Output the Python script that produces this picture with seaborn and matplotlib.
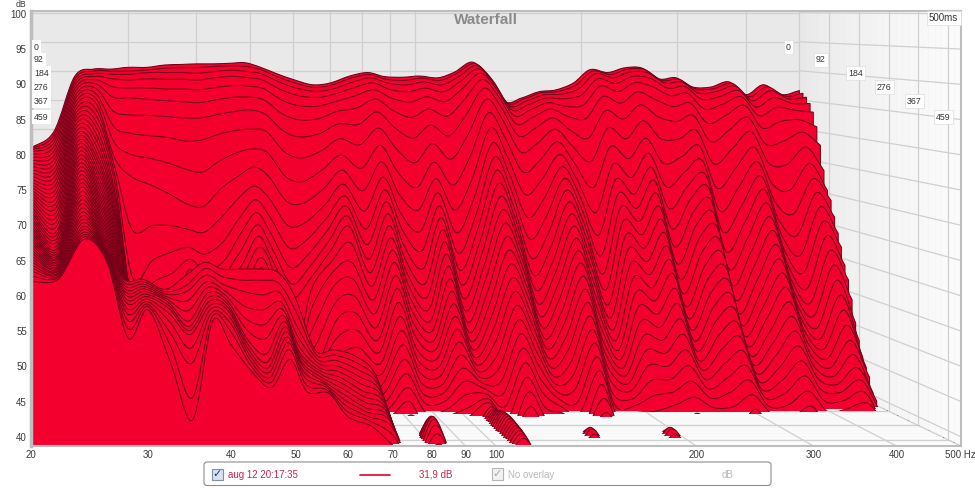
import numpy as np
import matplotlib
matplotlib.use("Agg")
import matplotlib.pyplot as plt
from matplotlib.path import Path
from matplotlib.patches import PathPatch, Rectangle, FancyBboxPatch
import seaborn as sns

# Frequencias das colunas (Hz) e tempo de cada fatia (ms)
freqs = [20, 22, 24, 26, 28, 30, 32.5, 35, 37.5, 40, 43, 46, 49, 52, 56, 60, 65, 70, 76, 82, 88, 95, 102,
         110, 118, 127, 136, 146, 156, 168, 180, 194, 208, 224, 240, 258, 278, 298, 320, 345, 372, 400, 430, 465, 500]
tempos = [0, 11, 22, 33, 43, 54, 65, 76, 87, 98, 109, 120, 130, 141, 152, 163, 174, 185, 196, 207, 217, 228, 239, 250,
          261, 272, 283, 293, 304, 315, 326, 337, 348, 359, 370, 380, 391, 402, 413, 424, 435, 446, 457, 467, 478, 489, 500]

# Valor abaixo do chao do grafico: a fatia nao aparece nessa frequencia
H = 36.0

# Decaimento em dB por frequencia, uma entrada por fatia
db_20 = [76.7, 76.6, 76.5, 76.3, 76, 75.6, 75.2, 74.8, 74.4, 74, 73.6, 73.2, 72.8, 72.5, 72.2, 71.9, 71.6, 71.3, 71, 70.7, 70.4, 70.1, 69.8, 69.5, 69.2, 68.9, 68.6, 68.3, 68, 67.7, 67.4, 67.1, 66.8, 66.5, 66.2, 65.9, 65.6, 65.3, 65, 64.7, 64.4, 64.1, 63.8, 63.5, 63.2, 62.6, 62]
db_22 = [79.5, 79, 78.5, 78, 77.4, 76.8, 76.2, 75.6, 75, 74.4, 73.8, 73.2, 72.6, 72, 71.4, 70.8, 70.2, 69.6, 69, 68.4, 67.8, 67.2, 66.6, 66, 65.6, 65.2, 64.8, 64.4, 64.1, 63.9, 63.7, 63.5, 63.4, 63.3, 63.2, 63.1, 63, 62.9, 62.8, 62.8, 62.7, 62.7, 62.6, 62.6, 62.5, 62.5, 62.4]
db_24 = [89, 88.6, 88.2, 87.8, 87.3, 86.8, 86.3, 85.8, 85.3, 84.8, 84.3, 83.8, 83.3, 82.8, 82.3, 81.8, 81.3, 80.8, 80.3, 79.8, 79.3, 78.8, 78.3, 77.8, 77.3, 76.8, 76.3, 75.8, 75.3, 74.8, 74.3, 73.8, 73.3, 72.8, 72.3, 71.8, 71.3, 70.8, 70.4, 70, 69.6, 69.2, 68.9, 68.6, 68.4, 68.2, 68]
db_26 = [90.3, 90, 89.6, 89.2, 88.7, 88.1, 87.4, 86.6, 85.8, 85, 84, 83, 82, 81, 80, 79, 78, 77, 76.2, 75.4, 74.6, 73.8, 73, 72.3, 71.6, 71, 70.4, 69.8, 69.2, 68.7, 68.2, 67.7, 67.2, 66.8, 66.4, 66.1, 65.9, 65.7, 65.5, 65.4, 65.3, 65.2, 65.1, 65, 65, 64.9, 64.8]
db_28 = [90.3, 90, 89.5, 88.8, 87.5, 85.8, 83.5, 81, 78.5, 76, 74.5, 73, 71.5, 70, 69, 68, 67.2, 66.5, 65.8, 65.2, 64.6, 64, 63.5, 63, 62.5, 62.1, 61.7, 61.3, 61, 60.7, 60.4, 60.1, 59.9, 59.7, 60.5, 60.2, 59.9, 59.6, 59.3, 59, 58.6, 58.2, 57.6, 57, 56.2, 55.2, 54]
db_30 = [90.6, 90, 89.5, 88.6, 87.3, 85.7, 82.9, 79.9, 76.5, 72.9, 64.3, 56.6] + [52] * 22 + [60.5, 60.3, 60.1, 59.9, 59.7, 59.5, 59.3, 59.1, 58.9, 58.7, 58.5, 58.3, 58]
db_32 = [90.6, 90.2, 89.8, 88.8, 87.3, 85.4, 82.8, 79.5, 75.8, 71.5, 65, 59.5, 56] + [50] * 21 + [59, 58.8, 58.6, 58.4, 58.2, 58, 57.7, 57.4, 56.8, 55.8, 54.4, 52.6, 50.2]
db_35 = [91, 90.5, 89.8, 88.7, 87.1, 85.2, 82.6, 79.2, 75, 70, 65, 60.8, 57.5] + [50] * 21 + [61, 59.7, 59, 57.8, 56.5, 55.2, 54.6, 54.2, 53.8, 52, 50, 45.3, 42.4]
db_37 = [91.1, 90.6, 89.8, 88.7, 87.1, 85, 82.4, 78.6, 74, 68.4, 64.4, 61.6, 59.8, 58.4] + [50] * 20 + [63, 62.2, 61.4, 60.6, 59.9, 59.3, 58.8, 58.4, 58, 57.6, 57.2, 56.8, 56.4]
db_40 = [91.2, 90.6, 89.7, 88.6, 87, 84.9, 82.4, 78.8, 73.6, 68, 63.9, 60.5, 58] + [50] * 21 + [62, 61, 60, 59.3, 58.8, 58.4, 58, 57.6, 57.2, 56.6, 55.9, 54.8, 53]
db_43 = [91.2, 90.8, 90, 89, 87.4, 85.4, 83, 79.8, 75.5, 71, 66.5, 62.5, 59.5, 57, 55] + [48] * 19 + [62, 60.5, 59, 57, 55.4, 54, 52.8, 52.2, 51.6, 51, 50.4, 49.8, 49.2]
db_46 = [91.3, 90.9, 90.2, 89.2, 87.7, 85.8, 83.5, 80.4, 76.8, 73, 69.6, 66.5, 64, 61.6, 59.4, 57.2, 55] + [48] * 17 + [62, 60.5, 58.5, 56.5, 54.5, 52.6, 50.6, 49.6, 49, 48.5, 48, 47.5, 47]
db_49 = [91.4, 90.8, 90, 89, 87.6, 85.8, 83.7, 80.6, 77.4, 74.5, 71.5, 69.4, 67.4, 65.6, 63.9, 62.3, 60.8, 59.4, 58] + [48] * 15 + [61.5, 60, 58.8, 57.6, 56.8, 56, 55.3, 54.7, 54.2, 53.6, 53, 52.2, 51]
db_52 = [90.7, 90.3, 89.6, 88.6, 87.2, 85.3, 83, 80.2, 76.8, 73, 69.4, 66.4, 63.8, 61.6, 59.6, 57.6, 55.6] + [46] * 17 + [58, 56, 54, 52.6, 51.4, 50.6, 50.1, 49.6, 49.2, 48.6, 48, 47.2, 46.4]
db_56 = [89.5, 89, 88.2, 87, 85.3, 83, 80.2, 76.8, 72.8, 68.8, 65, 61.5, 58.5, 56, 54] + [44] * 19 + [50, 49.5, 49, 48.6, 48.2, 47.9, 47.6, 47.3, 47, 46.8, 46.6, 46.4, 46.2]
db_60 = [88.5, 88, 87.2, 86, 84.3, 82, 79.2, 75.8, 72, 68.6, 65.5, 62.8, 60.5, 58.6, 57, 55.4, 53, 50, 47] + [44] * 15 + [50, 49.4, 48.8, 48.2, 47.6, 47, 46.4, 45.8, 45.2, 44.6, 44, 43.4, 42.8]
db_65 = [87.6, 87.2, 86.6, 85.6, 84.2, 82.2, 79.8, 77, 74, 71, 68.5, 66.4, 64.6, 63, 61.5, 60, 58.5, 56.5, 54, 51.5, 49, 46.5, 44] + [42] * 11 + [49, 48.2, 47.4, 46.6, 45.8, 45, 44.4, 43.8, 43.2, 42.8, 42.4, 42, 41.5]
db_70 = [87.9, 87.6, 87, 86.2, 85, 83.4, 81.4, 79, 76.4, 74, 71.8, 70, 68.5, 67, 65.5, 63, 60, 57.5, 55, 52.5, 50, 47.5, 45] + [40] * 11 + [46, 45.5, 45, 44.5, 44, 43.5, 43, 42.6, 42.2, 41.8, 41.2, 40.2, 38.8]
db_76 = [89.1, 88.8, 88.2, 87.3, 86, 84, 81.3, 78, 74.2, 70.6, 67.4, 64.6, 62.2, 60, 58, 56, 54, 52, 50, 48.2, 46.5, 45, 43.6, 42.4, 41.2, 40.2, 39.2, 38.3]
db_82 = [89.7, 89.4, 88.9, 88.1, 87, 85.5, 83.4, 80.8, 78, 75.4, 73, 71, 69.2, 67.4, 65.6, 63.8, 62, 60.2, 58.3, 56.4, 54.4, 52.4, 50.4, 48.4, 46.4, 44.4, 42.5, 40.6, 38.8] + [H] * 9 + [39.5, 40.5, 41.3, 41.8, 42, 41.8, 41.2, 40.2, 39]
db_88 = [89, 88.6, 88, 87, 85.6, 83.6, 80.8, 77.4, 73.6, 70, 67, 64.4, 62, 59.8, 57.8, 56, 54.2, 52.4, 50.6, 48.8, 47, 45.4, 43.8, 42.4, 41, 39.8, 38.6]
db_95 = [88.9, 88.4, 87.7, 86.6, 84.9, 82.4, 79, 75, 71, 67.4, 64, 61, 58.3, 56, 54, 52.2, 50.6, 49.2, 47.9, 46.7, 45.5, 44.4, 43.3, 42.2, 41.2, 40.2, 39.2, 38.3]
db_102 = [89.1, 88.8, 88.2, 87.2, 85.8, 83.8, 81.2, 78.2, 75.2, 72.6, 70.4, 68.4, 66.6, 64.8, 63, 61.2, 59.4, 57.6, 55.8, 54, 52.2, 50.4, 48.6, 46.8, 45, 43.2, 41.4, 39.6, 38.6]
db_110 = [88.8, 88.4, 87.7, 86.6, 85, 82.6, 79.4, 75.6, 71.4, 67.4, 63.8, 60.6, 58, 55.8, 53.8, 52, 50.4, 49, 47.8, 46.7, 45.7, 44.8, 44, 43.3, 42.7, 42.1, 41.5, 41, 40.6, 40.3, 40.2, 40.3, 40.5, 40.7, 40.9, 41, 41.1, 41.1, 41.1, 41, 40.9, 40.8, 40.7, 40.6, 40.4, 40.2, 39.8]
db_118 = [89.8, 89.6, 89.1, 88.4, 87.2, 85.4, 83, 79.8, 76.2, 72.6, 69.6, 67, 64.8, 62.8, 61, 59.2, 57.4, 55.6, 53.8, 52, 50.2, 48.4, 46.6, 44.8, 43, 41.3, 39.6, 38]
db_127 = [91.5, 91.3, 91, 90.5, 89.8, 88.8, 87.4, 85.6, 83.4, 81, 78.6, 76.4, 74.3, 72.3, 70.3, 68.3, 66.3, 64.3, 62.3, 60.3, 58.3, 56.3, 54.3, 52.3, 50.3, 48.3, 46.3, 44.3, 42.3, 40.3, 38.3]
db_136 = [89, 88.8, 88.4, 87.8, 87, 85.8, 84.2, 82, 79.2, 76.2, 73.4, 70.8, 68.5, 66.4, 64.4, 62.5, 60.6, 58.7, 56.8, 54.9, 53, 51.1, 49.2, 47.3, 45.4, 43.5, 41.6, 39.7, 38]
db_146 = [84.7, 84.5, 84.1, 83.5, 82.6, 81.3, 79.4, 76.8, 73.6, 70, 66.4, 63, 60, 57.4, 55.2, 53.2, 51.4, 49.8, 48.3, 46.9, 45.6, 44.4, 43.3, 42.3, 41.3, 40.4, 39.5, 38.7] + [H] * 10 + [39.2, 39.7, 39.7, 39.2]
db_156 = [85.3, 85.2, 84.9, 84.4, 83.6, 82.4, 80.6, 78.2, 75.4, 72.4, 69.4, 66.6, 64, 61.8, 59.8, 58, 56.2, 54.4, 52.6, 50.8, 49, 47.2, 45.4, 43.6, 41.8, 40, 38.6]
db_168 = [86.4, 86.3, 86, 85.5, 84.8, 83.8, 82.4, 80.6, 78.6, 76.6, 74.7, 72.9, 71.1, 69.3, 67.5, 65.7, 63.9, 62.1, 60.3, 58.4, 56.5, 54.6, 52.7, 50.8, 48.9, 47, 45.1, 43.2, 41.3, 39.4]
db_180 = [86.7, 86.5, 86.1, 85.4, 84.2, 82.6, 80.4, 77.8, 75, 72.4, 70, 67.8, 65.6, 63.4, 61.2, 59, 56.8, 54.6, 52.4, 50.2, 48.2, 46.4, 44.6, 42.8, 41, 39.4, 38]
db_194 = [87.9, 87.6, 87, 86, 84.4, 82.2, 79, 75.2, 71, 67, 63.4, 60.2, 57.4, 55, 52.8, 50.9, 49.2, 47.7, 46.4, 45.2, 44.1, 43.1, 42.1, 41.2, 40.3, 39.5, 38.7] + [H] * 11 + [39.2, 39.7, 39.7, 39.2]
db_208 = [90.2, 90, 89.6, 88.8, 87.6, 85.9, 83.6, 80.8, 77.8, 75, 72.6, 70.4, 68.3, 66.2, 64.1, 62, 59.9, 57.8, 55.7, 53.6, 51.5, 49.4, 47.3, 45.2, 43.1, 41, 38.9]
db_224 = [89.7, 89.4, 88.9, 88, 86.7, 84.8, 82.2, 79, 75.8, 72.8, 70.2, 68, 66, 64, 62, 60, 58.1, 56.2, 54.3, 52.4, 50.5, 48.7, 46.9, 45.1, 43.3, 41.6, 39.9]
db_240 = [90.5, 90.3, 89.9, 89.2, 88.2, 86.7, 84.6, 82, 79.2, 76.8, 74.6, 72.6, 70.6, 68.6, 66.6, 64.6, 62.6, 60.6, 58.6, 56.4, 54.2, 52, 49.8, 47.6, 45.4, 43.2, 41, 38.8]
db_258 = [90.5, 90.3, 89.8, 88.9, 87.5, 85.4, 82.6, 79, 75, 71.2, 67.8, 64.6, 61.8, 59.2, 56.9, 54.8, 52.9, 51.2, 49.6, 48.1, 46.7, 45.4, 44.2, 43, 41.8, 40.6, 39.4]
db_278 = [88.6, 88.4, 88, 87.2, 86, 84.2, 81.8, 79, 76.2, 73.8, 71.6, 69.6, 67.6, 65.6, 63.6, 61.6, 59.6, 57.6, 55.6, 53.6, 51.6, 49.6, 47.6, 45.6, 43.6, 41.6, 39.6]
db_298 = [88.8, 88.6, 88.2, 87.5, 86.4, 84.8, 82.8, 80.4, 77.9, 75.6, 73.4, 71.4, 69.4, 67.4, 65.4, 63.4, 61.4, 59.4, 57.4, 55.4, 53.4, 51.4, 49.4, 47.4, 45.4, 43.4, 41.4, 39.4]
db_320 = [87.2, 86.9, 86.3, 85.3, 83.7, 81.4, 78.4, 74.8, 70.9, 67.2, 63.9, 60.9, 58.2, 55.8, 53.6, 51.7, 50, 48.5, 47.1, 45.8, 44.6, 43.5, 42.4, 41.4, 40.4, 39.4, 38.5]
db_345 = [87.2, 87, 86.6, 85.8, 84.6, 82.8, 80.4, 77.4, 74.2, 71.2, 68.4, 65.8, 63.4, 61.2, 59.1, 57.1, 55.2, 53.3, 51.5, 49.7, 48, 46.3, 44.6, 42.9, 41.2, 39.6, 38]
db_372 = [88.1, 87.9, 87.5, 86.8, 85.8, 84.4, 82.5, 80.2, 77.7, 75.4, 73.2, 71.1, 69, 66.9, 64.8, 62.7, 60.6, 58.5, 56.4, 54.3, 52.2, 50.1, 48, 45.9, 43.8, 41.7, 39.6]
db_400 = [85.9, 85.6, 85, 84, 82.6, 80.6, 78, 74.9, 71.6, 68.6, 65.9, 63.4, 61, 58.8, 56.7, 54.7, 52.8, 51, 49.3, 47.6, 46, 44.4, 42.9, 41.4, 39.9, 38.5]
db_430 = [87.6, 87.3, 86.7, 85.6, 84, 81.7, 78.5, 74.7, 70.6, 66.8, 63.4, 60.3, 57.6, 55.2, 53.1, 51.2, 49.5, 48, 46.6, 45.3, 44.1, 43, 42, 41, 40, 39, 38.2]
db_465 = [85.9, 85.7, 85.3, 84.6, 83.5, 82, 80, 77.6, 75, 72.6, 70.4, 68.2, 66, 63.8, 61.6, 59.4, 57.2, 55, 52.8, 50.6, 48.4, 46.4, 44.6, 42.9, 41.3, 39.8, 38.4]
db_500 = [86.6, 86.2, 85.6, 84.6, 83.2, 80.8, 77.8, 73.7, 70.5, 69, 66.4, 63.9, 61.8, 59, 56.8, 53.8, 50.3, 47.7, 45.3, 43.9, 42.6, 40.4, 39.4, 38]

colunas = [db_20, db_22, db_24, db_26, db_28, db_30, db_32, db_35, db_37, db_40, db_43, db_46, db_49, db_52, db_56,
           db_60, db_65, db_70, db_76, db_82, db_88, db_95, db_102, db_110, db_118, db_127, db_136, db_146, db_156,
           db_168, db_180, db_194, db_208, db_224, db_240, db_258, db_278, db_298, db_320, db_345, db_372, db_400,
           db_430, db_465, db_500]

x_ticks = [20, 30, 40, 50, 60, 70, 80, 90, 100, 200, 300, 400]
y_ticks = list(range(40, 101, 5))
t_labels = [0, 92, 184, 276, 367, 459]

VERMELHO = "#f4002f"
LINHA = "#6e0018"
GRADE = "#cfcfcf"
DB_MIN = 38.7
DB_MAX = 100.4


# Projecao do waterfall: t=0 fica no fundo, t=500 na frente
def proj(f, db, t):
    s = np.asarray(t) / 500
    k = 238.7 + 50.2 * s
    fp = 20 * np.exp(np.log(np.asarray(f, dtype=float) / 20) * k / 288.9)
    y = 13 + s + (100 - np.asarray(db, dtype=float)) * (5.8 + 1.25 * s)
    return fp, 100 - (y - 14) / 7.05


def grade(ax, f, db, t, cor=GRADE):
    fp, dp = proj(f, db, t)
    sns.lineplot(x=fp, y=dp, ax=ax, color=cor, lw=0.9, sort=False, estimator=None, zorder=2)


# Curva suave (bezier) passando pelos valores da fatia
def curva(fp, dp):
    u = np.log(fp)
    tu = np.gradient(u) / 3
    tv = np.gradient(dp) / 3
    verts = [(fp[0], dp[0])]
    codes = [Path.MOVETO]
    for i in range(len(u) - 1):
        verts.append((np.exp(u[i] + tu[i]), dp[i] + tv[i]))
        verts.append((np.exp(u[i + 1] - tu[i + 1]), dp[i + 1] - tv[i + 1]))
        verts.append((fp[i + 1], dp[i + 1]))
        codes += [Path.CURVE4] * 3
    return verts, codes


sns.set_theme(style="white")
plt.rcParams["font.family"] = ["Liberation Sans", "DejaVu Sans"]

fig = plt.figure(figsize=(9.75, 4.88), dpi=100, facecolor="white")
ax = fig.add_axes([31 / 975, 1 - 446 / 488, 930 / 975, 435 / 488])
ax.set_xscale("log")
ax.set_xlim(20, 500)
ax.set_ylim(DB_MIN, DB_MAX)
ax.set_facecolor("#e9e9e9")

# Parede direita e chao em faixas (gradiente)
faixas = np.linspace(0, 500, 26)
for i in range(25):
    c = 0.91 + 0.075 * (i / 24) ** 0.7
    a = proj([500, 500, 500, 500], [DB_MAX, DB_MAX, DB_MIN, DB_MIN], [faixas[i], faixas[i + 1], faixas[i + 1], faixas[i]])
    ax.fill(a[0], a[1], color=(c, c, c), lw=0, zorder=1)
    c2 = 0.955 + 0.035 * i / 24
    a = proj([20, 500, 500, 20], [DB_MIN] * 4, [faixas[i], faixas[i], faixas[i + 1], faixas[i + 1]])
    ax.fill(a[0], a[1], color=(c2, c2, c2), lw=0, zorder=1)

# Grade das paredes
for f in x_ticks + [500]:
    grade(ax, [f, f], [DB_MAX, DB_MIN], [0, 0])
    grade(ax, [f, f], [DB_MIN, DB_MIN], [0, 500])
for d in y_ticks:
    grade(ax, [20, 500], [d, d], [0, 0])
    grade(ax, [500, 500], [d, d], [0, 500])
for t in t_labels[1:]:
    grade(ax, [500, 500], [DB_MAX, DB_MIN], [t, t])
    grade(ax, [20, 500], [DB_MIN, DB_MIN], [t, t])

# Fatias do fundo para a frente
for k, t in enumerate(tempos):
    vals = np.array([c[k] if k < len(c) else H for c in colunas])
    fp, dp = proj(freqs, vals, t)
    _, piso = proj(20, DB_MIN, t)
    verts, codes = curva(fp, dp)
    vfill = verts + [(fp[-1], piso - 1), (fp[0], piso - 1), (fp[0], piso - 1)]
    cfill = codes + [Path.LINETO, Path.LINETO, Path.CLOSEPOLY]
    corte = Rectangle((20, piso), 480, DB_MAX - piso, transform=ax.transData)
    z = 3 + k * 0.01
    p = PathPatch(Path(vfill, cfill), facecolor=VERMELHO, edgecolor="none", lw=0, zorder=z)
    ax.add_patch(p)
    p.set_clip_path(corte)
    vl = verts + [(fp[-1], piso)]
    cl = codes + [Path.LINETO]
    q = PathPatch(Path(vl, cl), facecolor="none", edgecolor=LINHA, lw=0.75, zorder=z + 0.001)
    ax.add_patch(q)
    q.set_clip_path(corte)

ax.set_xticks(x_ticks)
ax.set_xticklabels([str(v) for v in x_ticks])
ax.set_xticks([], minor=True)
ax.set_yticks(y_ticks)
ax.tick_params(axis="both", length=0, labelsize=7, labelcolor="#3a3a3a", pad=3)
for lado, sp in ax.spines.items():
    sp.set_color("#bdbdbd")
    sp.set_linewidth(1.5)
    sp.set_zorder(10)
ax.spines["left"].set_linewidth(2.5)
ax.set_ylabel("")
ax.set_xlabel("")

# Camada em pixels para os textos e a legenda
ov = fig.add_axes([0, 0, 1, 1], zorder=20)
ov.set_xlim(0, 975)
ov.set_ylim(488, 0)
ov.axis("off")
ov.patch.set_alpha(0)

caixa = dict(boxstyle="square,pad=0.25", fc="white", ec="#dddddd", lw=0.5)
for i, t in enumerate(t_labels):
    ov.text(34, [47, 60, 73, 87, 101, 117][i], str(t), fontsize=6.3, color="#333333", va="center", ha="left",
            bbox=dict(boxstyle="square,pad=0.25", fc="white", ec="none"))
    ov.text([786, 816, 848, 877, 907, 936][i], [47, 60, 73, 87, 101, 117][i], str(t), fontsize=6.3, color="#333333",
            va="center", ha="left", bbox=caixa)
ov.text(929, 18, "500ms", fontsize=7, color="#333333", va="center", ha="left", bbox=caixa)
ov.text(486, 20, "Waterfall", fontsize=11, color="#8a8a8a", fontweight="bold", ha="center", va="center")
ov.text(21, 4.5, "dB", fontsize=6.3, color="#3a3a3a", ha="center", va="center")
ov.text(945, 455.5, "500 Hz", fontsize=7, color="#3a3a3a", ha="left", va="center")

ov.add_patch(FancyBboxPatch((204, 462), 567, 23.5, boxstyle="round,pad=0,rounding_size=3", fc="white", ec="#8c8c8c", lw=0.8))
ov.add_patch(Rectangle((212, 469), 11, 11, fc="#d9e1ef", ec="#7f8fa8", lw=0.8))
ov.text(217.5, 474.5, "\u2713", fontsize=8, color="#23376e", ha="center", va="center", family="DejaVu Sans")
ov.text(228, 474.5, "aug 12 20:17:35", fontsize=7, color="#c2264a", ha="left", va="center")
sns.lineplot(x=[360, 390], y=[474.5, 474.5], ax=ov, color="#e8103f", lw=1.3, estimator=None)
ov.text(419, 474.5, "31,9 dB", fontsize=7, color="#c2264a", ha="left", va="center")
ov.add_patch(Rectangle((492, 468), 11, 12, fc="#f2f2f2", ec="#b5b5b5", lw=0.8))
ov.text(497.5, 474.5, "\u2713", fontsize=8, color="#a8a8a8", ha="center", va="center", family="DejaVu Sans")
ov.text(508, 474.5, "No overlay", fontsize=7, color="#b8b8b8", ha="left", va="center")
ov.text(727, 474.5, "dB", fontsize=7, color="#b8b8b8", ha="center", va="center")
ov.set_xlim(0, 975)
ov.set_ylim(488, 0)
ov.set_xlabel("")
ov.set_ylabel("")

fig.savefig("out.png", dpi=100)
